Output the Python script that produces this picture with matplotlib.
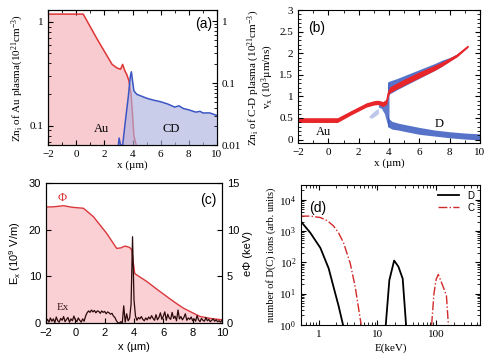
#!/usr/bin/env python3
"""Four-panel plasma figure: densities, phase space, field/potential, ion spectra"""

import numpy as np
import matplotlib
matplotlib.use('Agg')
import matplotlib.pyplot as plt
from matplotlib.ticker import AutoMinorLocator, FuncFormatter, LogLocator, NullFormatter

plt.rcParams['font.family'] = ['Liberation Serif', 'DejaVu Serif']
plt.rcParams['mathtext.default'] = 'regular'
plt.rcParams['xtick.direction'] = 'in'
plt.rcParams['ytick.direction'] = 'in'
plt.rcParams['xtick.labelsize'] = 8
plt.rcParams['ytick.labelsize'] = 8
plt.rcParams['axes.linewidth'] = 0.8

SANS = ['Liberation Sans', 'DejaVu Sans']

# (a) densities
au_x = [-2, 0.5, 1.5, 2.55, 2.9, 3.15, 3.3, 3.45, 3.6, 3.75, 3.9, 4.0, 4.1, 4.25, 4.4]
au_n = [1.19, 1.19, 0.68, 0.39, 0.36, 0.35, 0.39, 0.34, 0.31, 0.27, 0.2, 0.13, 0.08, 0.066, 0.06]
cd_x = [2.95, 3.05, 3.15, 3.3, 3.5, 3.7, 3.85, 3.92, 4.0, 4.1, 4.3, 4.6, 5.0, 5.5, 6.0,
        6.5, 7.0, 7.3, 7.6, 8.0, 8.5, 8.8, 9.0, 9.5, 10.0]
cd_n = [0.008, 0.013, 0.01, 0.01, 0.025, 0.06, 0.13, 0.152, 0.11, 0.075, 0.066, 0.062,
        0.057, 0.053, 0.05, 0.046, 0.041, 0.043, 0.039, 0.037, 0.034, 0.035, 0.033, 0.033, 0.030]

# (b) phase space bands: centre and half width
au_vx_x = [-2, 0.6, 1.5, 2.5, 3.0, 3.3, 3.6, 3.85, 3.95, 4.05, 4.3, 5.0, 6.0, 7.0, 7.5, 8.5, 9.2]
au_vx = [0.45, 0.45, 0.62, 0.8, 0.85, 0.86, 0.82, 0.88, 1.05, 1.15, 1.2, 1.33, 1.5, 1.66, 1.75, 1.95, 2.15]
au_dv = [0.055, 0.055, 0.05, 0.05, 0.05, 0.05, 0.06, 0.06, 0.06, 0.07, 0.07, 0.07, 0.07, 0.06, 0.05, 0.03, 0.01]
d_up_x = [3.9, 4.0, 4.5, 5.0, 6.0, 7.0, 7.5, 8.0, 8.5, 9.2]
d_up = [1.2, 1.2, 1.28, 1.36, 1.52, 1.68, 1.77, 1.86, 1.96, 2.15]
d_up_dv = [0.13, 0.15, 0.13, 0.12, 0.1, 0.08, 0.07, 0.04, 0.025, 0.01]
d_lo_x = [3.9, 4.0, 4.2, 4.6, 5.0, 6.0, 7.0, 8.0, 9.0, 10.0]
d_lo = [0.45, 0.38, 0.33, 0.3, 0.27, 0.2, 0.15, 0.11, 0.08, 0.06]
d_lo_dv = [0.15, 0.1, 0.09, 0.08, 0.08, 0.08, 0.07, 0.07, 0.07, 0.07]
d_mid_x = [3.3, 3.5, 3.7, 3.85, 3.95, 4.0]
d_mid_lo = [0.75, 0.72, 0.6, 0.4, 0.3, 0.3]
d_mid_hi = [0.88, 0.86, 0.86, 0.95, 1.3, 1.35]
d_faint_x = [2.7, 2.9, 3.1, 3.3]
d_faint_lo = [0.5, 0.5, 0.55, 0.6]
d_faint_hi = [0.55, 0.62, 0.68, 0.72]

# (c) potential (keV) and field (1e9 V/m)
phi_x = [-2, -1.5, -0.8, -0.2, 0.55, 1.23, 2.14, 2.82, 3.1, 3.39, 3.7, 3.85, 3.95, 4.05,
         4.87, 5.5, 6.23, 6.8, 7.37, 8.0, 8.5, 9.2, 10.0]
phi = [12.43, 12.45, 12.57, 12.4, 12.3, 11.4, 9.6, 8.0, 8.05, 8.25, 8.1, 7.85, 6.5, 5.3,
       4.46, 3.7, 2.85, 2.2, 1.6, 1.1, 0.71, 0.5, 0.35]
ex = [0.3, 0.8, 0.2, 1.1, 0.4, 0.9, 0.1, 1.3, 0.5, 0.2, 1.0, 0.6, 1.4, 0.3, 0.8, 1.2, 0.2,
      0.9, 0.5, 1.5, 0.7, 0.3, 1.1, 0.6, 0.2, 0.9, 0.4,
      1.5, 2.2, 2.6, 2.3, 2.8, 2.4, 2.7, 2.2, 2.6, 2.5, 2.1, 2.6, 2.3, 2.5, 2.0, 2.4, 2.2, 1.9, 2.1,
      1.5, 1.2, 0.5, 0.1, 0.0, 0.3, 0.0,
      3.7, 0.2, 2.0, 0.5, 1.0, 4.0, 18.5, 5.0,
      1.5, 0.6, 1.2, 0.9, 1.4, 0.8, 0.5, 1.1, 0.7, 1.3, 0.9, 1.6, 1.0, 0.6, 1.8, 0.7, 1.2, 2.2,
      0.8, 1.5, 2.4, 0.6, 1.9, 1.1, 0.8, 2.3, 1.0, 1.5, 0.5, 2.8, 0.9, 1.4, 0.7, 1.2, 2.0, 0.6,
      1.1, 0.8, 1.3, 0.5, 0.9, 0.4, 1.6, 0.7, 0.3, 1.0, 0.6, 0.4, 1.2, 0.5, 0.8, 0.3, 0.6, 0.9,
      0.4, 0.7, 0.3, 0.5, 0.2, 0.6]
ex_x = np.linspace(-2, 10, len(ex))

# (d) spectra
d_e1 = [0.49, 0.72, 1.07, 1.48, 1.92, 2.18, 2.6]
d_n1 = [2100, 880, 288, 64, 10, 4.1, 1]
d_e2 = [13.9, 16.0, 19.3, 22.8, 27, 30.8]
d_n2 = [1, 27, 114, 73, 30, 1]
c_e1 = [0.49, 0.72, 1.07, 1.4, 1.8, 2.2, 2.66, 3.45, 4.2, 5.3]
c_n1 = [3000, 3000, 2700, 2150, 1440, 850, 416, 93, 16, 1]
c_e2 = [84, 92, 100, 109, 133, 150, 162]
c_n2 = [1, 10, 28, 41, 16, 8.7, 1]

fig = plt.figure(figsize=(5, 3.61), dpi=100)

# ---- (a)
ax1 = fig.add_axes([0.096, 0.598, 0.338, 0.374])
ax1.set_yscale('log')
ax1.set_xlim(-2, 10)
ax1.set_ylim(0.065, 1.3)
ax1.fill_between(au_x, au_n, 1e-4, color='#f5bfc4', alpha=0.8, lw=0)
ax1.plot(au_x, au_n, color='#e03535', lw=1.1)
ax1.set_yticks([0.1, 1], ['0.1', '1'])
ax1.yaxis.set_minor_formatter(NullFormatter())
ax1.set_xticks(range(-2, 11, 2))
ax1.xaxis.set_minor_locator(AutoMinorLocator(2))
ax1.tick_params(top=True, which='both')
ax1.set_xlabel('x (µm)', fontsize=8, labelpad=1)
ax1.set_ylabel('Zn$_i$ of Au plasma(10$^{21}$cm$^{-3}$)', fontsize=8, labelpad=2)
ax1b = ax1.twinx()
ax1b.set_yscale('log')
ax1b.set_ylim(0.01, 1.5)
ax1b.fill_between(cd_x, cd_n, 1e-4, color='#aeb2e0', alpha=0.65, lw=0)
ax1b.plot(cd_x, cd_n, color='#3b55c4', lw=1.1)
ax1b.set_yticks([0.01, 0.1, 1], ['0.01', '0.1', '1'])
ax1b.yaxis.set_minor_formatter(NullFormatter())
ax1b.set_ylabel('Zn$_i$ of C-D plasma (10$^{21}$cm$^{-3}$)', fontsize=8, labelpad=3)
ax1b.text(0.27, 0.1, 'Au', fontsize=9, transform=ax1b.transAxes)
ax1b.text(0.68, 0.1, 'CD', fontsize=9, transform=ax1b.transAxes)
ax1b.text(0.97, 0.87, '(a)', fontsize=10, family=SANS, ha='right', transform=ax1b.transAxes)

# ---- (b)
ax2 = fig.add_axes([0.596, 0.604, 0.364, 0.368])
ax2.set_xlim(-2, 10)
ax2.set_ylim(-0.08, 3)
ax2.fill_between(d_faint_x, d_faint_lo, d_faint_hi, color='#7d8fd8', alpha=0.5, lw=0)
ax2.fill_between(d_mid_x, d_mid_lo, d_mid_hi, color='#3a5ac0', alpha=0.8, lw=0)
ax2.fill_between(d_lo_x, np.subtract(d_lo, d_lo_dv), np.add(d_lo, d_lo_dv),
                 color='#3a5ac0', alpha=0.85, lw=0)
ax2.fill_between(d_up_x, np.subtract(d_up, d_up_dv), np.add(d_up, d_up_dv),
                 color='#3a5ac0', alpha=0.85, lw=0)
ax2.fill_between(au_vx_x, np.subtract(au_vx, au_dv), np.add(au_vx, au_dv),
                 color='#e8262a', lw=0)
ax2.plot(au_vx_x, au_vx, color='#e8262a', lw=1.2)
ax2.set_xticks(range(-2, 11, 2))
ax2.set_yticks(np.arange(0, 3.01, 0.5))
ax2.yaxis.set_major_formatter(FuncFormatter(lambda v, p: '%g' % v))
ax2.xaxis.set_minor_locator(AutoMinorLocator(2))
ax2.yaxis.set_minor_locator(AutoMinorLocator(5))
ax2.tick_params(top=True, right=True, which='both')
ax2.set_xlabel('x (µm)', fontsize=8, labelpad=1)
ax2.set_ylabel('v$_x$ (10$^3$µm/ns)', fontsize=8, labelpad=2)
ax2.text(-0.8, 0.1, 'Au', fontsize=9)
ax2.text(7.0, 0.28, 'D', fontsize=9)
ax2.text(-1.3, 2.5, '(b)', fontsize=10, family=SANS)

# ---- (c)
ax3 = fig.add_axes([0.092, 0.105, 0.352, 0.388])
ax3.set_xlim(-2, 10)
ax3.set_ylim(0, 30)
ax3b = ax3.twinx()
ax3b.set_ylim(0, 15)
ax3b.fill_between(phi_x, phi, 0, color='#fbd0d4', lw=0)
ax3b.plot(phi_x, phi, color='#d9373b', lw=1.0)
ax3.set_zorder(ax3b.get_zorder() + 1)
ax3.patch.set_visible(False)
ax3.plot(ex_x, ex, color='#2a0a0a', lw=0.9)
ax3.set_xticks(range(-2, 11, 2))
ax3.set_yticks([0, 10, 20, 30])
ax3b.set_yticks([0, 5, 10, 15])
for a in (ax3, ax3b):
    for lab in a.get_xticklabels() + a.get_yticklabels():
        lab.set_family(SANS)
ax3.set_xlabel('x (µm)', fontsize=8, family=SANS, labelpad=3)
ax3.set_ylabel('E$_x$ (10$^9$ V/m)', fontsize=8, family=SANS, labelpad=4)
ax3b.set_ylabel('eΦ (keV)', fontsize=8, family=SANS, labelpad=3)
ax3.text(-1.2, 26.2, 'Φ', color='#d9373b', fontsize=9)
ax3.text(-1.3, 2.8, 'Ex', color='#3a1a1a', fontsize=8)
ax3.text(9.6, 25.5, '(c)', fontsize=10, family=SANS, ha='right')

# ---- (d)
ax4 = fig.add_axes([0.602, 0.100, 0.358, 0.388])
ax4.set_xscale('log')
ax4.set_yscale('log')
ax4.set_xlim(0.5, 560)
ax4.set_ylim(1, 3e4)
ax4.plot(d_e1, d_n1, color='black', lw=1.3, label='D')
ax4.plot(d_e2, d_n2, color='black', lw=1.3)
ax4.plot(c_e1, c_n1, color='#d02a2a', lw=1.0, ls='-.', label='C')
ax4.plot(c_e2, c_n2, color='#d02a2a', lw=1.0, ls='-.')
ax4.set_xticks([1, 10, 100], ['1', '10', '100'])
ax4.xaxis.set_minor_locator(LogLocator(subs=np.arange(2, 10)))
ax4.xaxis.set_minor_formatter(NullFormatter())
ax4.set_yticks([1, 10, 100, 1000, 10000])
ax4.yaxis.set_minor_locator(LogLocator(subs=np.arange(2, 10)))
ax4.yaxis.set_minor_formatter(NullFormatter())
ax4.tick_params(top=True, right=True, which='both')
ax4.set_xlabel('E(keV)', fontsize=8, labelpad=3)
ax4.set_ylabel('number of D(C) ions (arb. units)', fontsize=7.5, labelpad=2)
ax4.legend(loc='upper right', frameon=False, handlelength=2.2,
           borderaxespad=0.2, labelspacing=0.2, prop={'family': SANS, 'size': 7})
ax4.text(0.7, 4000, '(d)', fontsize=10, family=SANS)

plt.savefig('out.png', dpi=100)
